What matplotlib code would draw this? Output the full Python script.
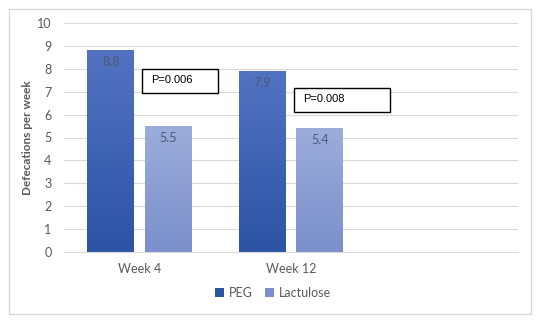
import matplotlib
matplotlib.use("Agg")
import matplotlib.pyplot as plt
import numpy as np
from matplotlib.colors import LinearSegmentedColormap
from matplotlib.patches import Rectangle, Patch

categories = ["Week 4", "Week 12", ""]
peg = [8.8, 7.9]
lactulose = [5.5, 5.4]
p_values = ["P=0.006", "P=0.008"]
y_ticks = list(range(0, 11))

peg_top, peg_bottom = "#5373C2", "#2C53A4"
lac_top, lac_bottom = "#9DADDB", "#7A8FCB"

fig = plt.figure(figsize=(5.43, 3.24), dpi=100)
W, H = 543, 324
ax = fig.add_axes([64 / W, (H - 252) / H, (518 - 64) / W, (252 - 23) / H])

# outer chart frame
fig.patches.append(Rectangle((9 / W, (H - 314) / H), (531 - 9) / W, (314 - 9) / H,
                             transform=fig.transFigure, fill=False,
                             edgecolor="#D9D9D9", linewidth=1.0))

x = np.arange(len(peg))
width = 0.31
offset = 0.19


def gradient_bars(xs, vals, top, bottom):
    bars = ax.bar(xs, vals, width, color="none", edgecolor="none", zorder=2)
    cmap = LinearSegmentedColormap.from_list("g", [bottom, top])
    grad = np.linspace(0, 1, 256).reshape(-1, 1)
    for b in bars:
        x0, y0 = b.get_x(), b.get_y()
        ax.imshow(grad, cmap=cmap, origin="lower", aspect="auto",
                  extent=(x0, x0 + b.get_width(), y0, y0 + b.get_height()),
                  zorder=2)
    return bars


b1 = gradient_bars(x - offset, peg, peg_top, peg_bottom)
b2 = gradient_bars(x + offset, lactulose, lac_top, lac_bottom)

label_font = "Lato"
for bars, vals in ((b1, peg), (b2, lactulose)):
    for b, v in zip(bars, vals):
        ax.text(b.get_x() + b.get_width() / 2, v - 0.5, f"{v:.1f}",
                ha="center", va="center", fontsize=9, color="#4A5A7A",
                family=label_font, zorder=3)

# p-value annotation boxes
boxes = [(0.017, 6.95, 0.503, 1.05), (1.023, 6.11, 0.629, 1.05)]
for (bx, by, bw, bh), txt in zip(boxes, p_values):
    ax.add_patch(Rectangle((bx, by), bw, bh, facecolor="white",
                           edgecolor="black", linewidth=1.0, zorder=4))
    ax.text(bx + 0.06, by + bh * 0.55, txt, ha="left", va="center",
            fontsize=8, family="Liberation Sans", color="black", zorder=5)

ax.set_xlim(-0.5, 2.5)
ax.set_ylim(0, 10)
ax.set_yticks(y_ticks)
ax.set_xticks(np.arange(len(categories)))
ax.set_xticklabels(categories)
ax.yaxis.grid(True, color="#D9D9D9", linewidth=0.8, zorder=0)
ax.set_axisbelow(True)
for s in ax.spines.values():
    s.set_visible(False)
ax.spines["bottom"].set_visible(True)
ax.spines["bottom"].set_color("#D9D9D9")
ax.tick_params(axis="both", length=0, labelsize=9, labelcolor="#595959")
ax.tick_params(axis="y", pad=9)
ax.tick_params(axis="x", pad=8)
for lbl in ax.get_xticklabels() + ax.get_yticklabels():
    lbl.set_family(label_font)

ax.set_ylabel("Defecations per week", fontsize=8.5, fontweight="bold",
              color="#595959", family=label_font)
ax.yaxis.set_label_coords((33 - 64) / 454, 0.5)

handles = [Patch(facecolor=peg_bottom, label="PEG"),
           Patch(facecolor=lac_bottom, label="Lactulose")]
leg = fig.legend(handles=handles, loc="center", bbox_to_anchor=(273 / W, (H - 293) / H),
                 ncol=2, frameon=False, handlelength=0.7,
                 handleheight=0.7, handletextpad=0.4, columnspacing=1.0,
                 prop={"family": label_font, "size": 9})
for t in leg.get_texts():
    t.set_color("#595959")

fig.savefig("out.png", dpi=100)
